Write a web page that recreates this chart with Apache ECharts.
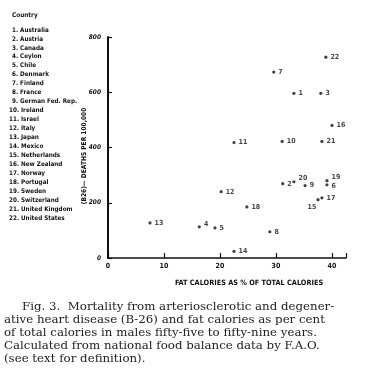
<!DOCTYPE html>
<html>
<head>
<meta charset="utf-8">
<script src="https://cdn.jsdelivr.net/npm/echarts@6/dist/echarts.min.js"></script>
<style>html,body{margin:0;padding:0;background:#fff;}#c{width:387px;height:378px;}</style>
</head>
<body>
<div id="c"></div>
<script>
// ---- data ----
var countryNames = ['Australia','Austria','Canada','Ceylon','Chile','Denmark','Finland','France',
  'German Fed. Rep.','Ireland','Israel','Italy','Japan','Mexico','Netherlands','New Zealand',
  'Norway','Portugal','Sweden','Switzerland','United Kingdom','United States'];
var countryNumbers = [1,2,3,4,5,6,7,8,9,10,11,12,13,14,15,16,17,18,19,20,21,22];
var fatPct = [33.2,31.2,38.0,16.3,19.1,39.1,29.6,28.9,35.2,31.1,22.5,20.2,7.5,22.5,37.5,40.0,38.2,24.8,39.1,33.2,38.2,38.9];
var deaths = [596,269,596,113,109,265,673,95,262,422,418,240,127,24,211,480,218,185,280,276,422,727];
var xTicks = [0,10,20,30,40];
var yTicks = [0,200,400,600,800];
var captionLines = [
  'Fig. 3.  Mortality from arteriosclerotic and degener-',
  'ative heart disease (B-26) and fat calories as per cent',
  'of total calories in males fifty-five to fifty-nine years.',
  'Calculated from national food balance data by F.A.O.',
  '(see text for definition).'
];

var labelFont = 'DejaVu Sans Condensed, DejaVu Sans, sans-serif';
var labelPlace = {15:{position:'bottom',offset:[-6,-1]},20:{position:'right',offset:[0,-4]},19:{position:'right',offset:[0,-3]},6:{position:'right',offset:[0,1]},4:{position:'right',offset:[0,-3]}};

var pts = countryNumbers.map(function(n,i){
  var d = {value:[fatPct[i], deaths[i], n]};
  if (labelPlace[n]) d.label = labelPlace[n];
  return d;
});

var graphics = [];
graphics.push({type:'text', left:12, top:12, style:{text:'Country', font:'bold 6.4px '+labelFont, fill:'#111'}});
countryNames.forEach(function(name,i){
  graphics.push({type:'text', left:(countryNumbers[i]>=10?9:12), top:27+i*8.95,
    style:{text:countryNumbers[i]+'. '+name, font:'bold 6.3px '+labelFont, fill:'#111'}});
});
graphics.push({type:'text', x:84, y:156, rotation:Math.PI/2,
  style:{text:'(B26)\u2014 DEATHS PER 100,000', font:'bold 6.6px '+labelFont, fill:'#111', align:'center', verticalAlign:'middle'}});
graphics.push({type:'text', x:249, y:283, style:{text:'FAT CALORIES AS % OF TOTAL CALORIES', font:'bold 7.3px '+labelFont, fill:'#111', align:'center', verticalAlign:'middle'}});
captionLines.forEach(function(t,i){
  graphics.push({type:'text', left:(i===0?22:4), top:301+i*13.1,
    style:{text:t, font:'11.8px "DejaVu Serif", serif', fill:'#222'}});
});

var chart = echarts.init(document.getElementById('c'));
chart.setOption({
  backgroundColor:'#fff',
  animation:false,
  grid:{left:108, right:41, top:37, bottom:120},
  xAxis:{type:'value', min:0, max:42.5, interval:10,
    axisLine:{lineStyle:{color:'#111', width:1.5}},
    axisTick:{inside:true, length:5, lineStyle:{color:'#111', width:1.2}},
    axisLabel:{margin:5, color:'#111', fontSize:7, fontWeight:'bold', fontFamily:labelFont,
      formatter:function(v){return xTicks.indexOf(v)>=0? String(v):'';}},
    splitLine:{show:false}},
  yAxis:{type:'value', min:0, max:800, interval:200,
    axisLine:{show:true, lineStyle:{color:'#111', width:2}},
    axisTick:{show:true, inside:true, length:4, lineStyle:{color:'#111', width:1.2}},
    axisLabel:{margin:7, fontSize:6.5, fontWeight:'bold', fontStyle:'italic', fontFamily:labelFont, color:'#111',
      formatter:function(v){return yTicks.indexOf(v)>=0? String(v):'';}},
    splitLine:{show:false}},
  series:[{type:'scatter', symbol:'circle', symbolSize:3.2,
    itemStyle:{color:'#111'},
    label:{show:true, position:'right', distance:3, fontSize:7, fontWeight:'bold', fontFamily:labelFont, color:'#111',
      formatter:function(p){return p.value[2];}},
    data:pts}],
  graphic:graphics
});
</script>
</body>
</html>
